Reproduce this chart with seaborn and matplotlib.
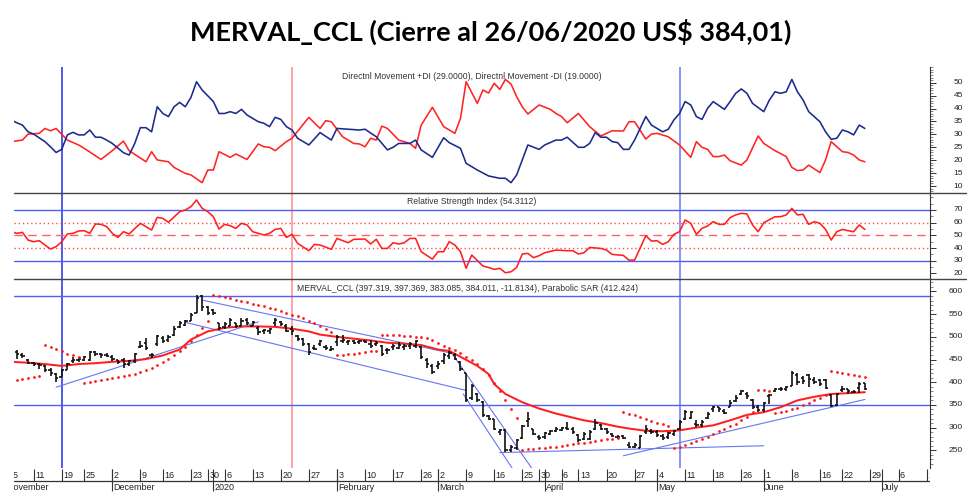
import matplotlib
matplotlib.use("Agg")
import matplotlib.pyplot as plt
from matplotlib.lines import Line2D
from matplotlib.ticker import MultipleLocator
import numpy as np
import pandas as pd
import seaborn as sns

# ---------------- data (trading-day index 0 = 5 Nov 2019 ... 152 = 26 Jun 2020) -------------
bar_open = [462,466,460,450,443,440,436,428,418,412,
            428,447,449,450,448,466,462,460,456,448,
            450,440,447,478,486,460,485,498,492,505,
            522,526,536,552,590,566,560,530,522,525,
            530,525,538,525,520,512,512,530,532,524,
            518,502,495,485,476,485,478,472,488,490,
            488,490,488,490,485,485,480,472,478,476,
            478,480,480,478,450,435,435,446,458,460,
            445,421,365,374,356,325,318,290,295,250,
            255,278,315,298,280,280,285,292,294,300,
            296,284,275,276,298,305,296,285,280,281,
            262,258,256,290,292,290,282,280,285,298,
            318,322,308,306,322,340,345,336,346,358,
            375,375,360,345,338,370,380,386,385,392,
            415,410,415,405,404,405,372,350,382,384,
            378,388,397.319]
bar_high = [472,472,465,452,445,443,438,432,421,429,
            443,456,456,458,469,469,465,465,460,450,
            454,450,465,491,498,465,505,501,505,523,
            534,538,552,592,592,567,562,531,532,541,
            531,541,541,534,523,518,520,541,536,528,
            523,505,498,487,483,494,483,480,505,505,
            494,494,494,494,494,490,483,476,484,488,
            485,488,494,480,454,440,447,465,469,465,
            447,421,396,376,358,327,320,298,298,262,
            276,305,334,298,283,290,294,302,302,313,
            302,287,290,294,318,308,300,288,283,283,
            269,266,283,305,296,294,287,290,294,316,
            339,336,316,316,334,347,345,341,360,371,
            383,378,363,349,356,374,387,390,392,425,
            420,414,418,411,408,407,374,376,392,385,
            383,400,397.369]
bar_low = [456,451,454,440,436,429,422,414,400,411,
           426,443,444,447,447,458,454,455,447,440,
           432,436,443,476,472,454,480,487,488,501,
           520,523,534,552,558,549,549,516,518,523,
           520,523,526,523,505,506,506,523,523,510,
           505,491,480,461,472,480,472,469,480,487,
           482,484,484,487,476,480,458,462,472,474,
           470,474,476,451,432,418,429,440,451,448,
           425,356,360,356,323,316,294,283,247,247,
           251,276,302,283,273,276,283,290,292,294,
           286,269,272,273,294,294,286,279,276,274,
           254,254,254,287,285,280,272,276,282,294,
           316,318,302,302,320,334,334,330,345,356,
           371,364,341,334,334,352,378,380,380,392,
           395,396,390,396,392,385,345,347,378,375,
           376,376,383.085]
bar_close = [466,462,458,443,440,438,428,420,410,426,
             440,450,451,455,466,463,460,458,451,444,
             440,447,462,480,476,461,502,490,500,518,
             530,535,548,585,565,552,552,520,528,538,
             524,536,530,532,510,515,518,538,528,514,
             512,495,485,466,474,490,476,474,500,492,
             490,487,490,489,480,486,462,470,480,482,
             480,485,490,455,440,422,440,460,465,452,
             430,360,392,360,328,320,298,295,250,258,
             272,303,320,286,278,288,292,298,300,298,
             290,272,286,290,310,298,290,282,280,278,
             258,262,282,298,290,284,278,288,292,312,
             335,334,306,312,330,345,340,332,355,366,
             380,370,345,338,354,372,384,384,390,420,
             400,402,408,400,396,388,348,374,384,380,
             379,397,384.011]
sar_value = [404,406,408,410,412,414,
             482,478,473,468,463,459,455,
             398,400,402,404,407,409,411,413,416,419,423,427,432,438,445,452,460,468,478,490,505,520,536,
             592,590,588,585,582,579,576,573,570,567,564,561,557,553,549,545,541,536,531,525,518,510,
             460,461,462,463,465,466,468,469,
             505,505,504,503,502,501,500,499,497,492,486,480,476,471,464,456,448,440,430,416,398,380,360,340,322,
             251,252,253,254,255,257,258,260,261,263,265,266,268,270,272,274,276,278,
             334,331,327,323,319,315,311,307,303,
             254,258,262,266,270,275,280,286,292,297,303,309,316,324,334,
             383,382,380,
             333,335,337,340,344,349,354,360,366,372,
             424,422,420,418,416,414,412.424]
ma_day = [0,3,6,9,12,15,18,21,24,27,30,32,35,38,41,44,47,50,53,55,58,61,64,67,70,73,76,78,80,83,
          85,86,88,91,94,97,100,102,105,108,110,113,116,119,122,125,128,131,134,137,140,143,146,149,152]
ma_value = [445,443,440,436,440,442,445,447,451,459,472,494,512,520,523,523,522,518,512,505,500,496,492,487,485,482,472,469,456,436,
            418,396,374,356,342,331,322,316,310,302,298,293,292,294,300,305,316,328,334,345,360,368,374,376,378]
dip_day = [0,1,2,3,4,6,7,8,9,10,11,12,13,14,15,16,17,18,20,21,22,23,24,25,26,27,28,29,30,31,
           32,33,34,36,37,38,39,40,41,42,44,45,46,47,48,49,50,51,53,55,57,58,60,62,63,65,67,68,69,71,
           72,73,75,77,78,80,81,83,85,87,88,89,90,92,94,95,97,98,99,101,102,103,104,105,106,107,108,109,110,111,
           113,114,115,116,117,118,119,120,121,122,123,124,125,127,128,129,130,131,132,134,
           135,136,137,138,139,140,141,142,144,145,146,147,148,149,150,151,152]
dip_value = [35.6,34.5,33.6,31.0,30.1,27.2,25.2,23.0,24.2,29.8,30.8,29.8,29.8,31.7,28.9,28.9,27.8,26.5,22.9,22.0,
             26.5,32.6,32.6,31.0,40.7,38.1,36.9,40.7,42.4,40.7,44.3,50.4,47.2,42.7,38.1,38.1,38.8,38.1,39.7,37.5,
             34.9,34.3,33.0,36.6,35.8,33.0,31.7,28.5,25.9,30.7,27.8,32.3,32.0,31.7,32.0,29.1,24.0,25.0,26.5,26.5,
             27.8,24.0,21.1,28.7,26.8,24.6,18.8,16.2,13.9,13.0,13.0,11.3,14.3,25.9,24.2,25.9,27.8,27.8,28.9,25.0,
             25.0,26.5,30.7,28.9,28.9,27.2,26.8,24.2,24.2,27.8,36.9,33.6,32.3,31.0,32.0,35.6,38.1,42.7,41.4,36.9,
             35.8,40.1,42.7,39.7,42.7,45.9,47.6,45.9,42.0,38.8,43.3,46.5,45.9,46.5,51.3,46.5,43.3,38.8,34.9,31.0,
             28.1,28.5,31.7,31.0,29.8,33.6,32.3]
dim_day = [0,2,3,5,6,7,8,10,12,13,16,18,20,21,24,25,26,28,29,31,32,34,35,36,37,39,40,42,44,45,
           46,47,49,50,53,55,56,57,59,61,62,63,64,65,66,67,69,71,72,73,75,77,79,80,81,83,84,85,86,87,
           88,89,90,91,92,94,96,97,98,99,101,103,105,107,109,110,111,113,114,115,117,119,121,122,123,124,125,126,127,128,
           130,131,133,134,136,138,139,140,141,142,144,145,146,148,149,150,151,152]
dim_value = [27.2,27.8,30.1,30.4,32.3,31.4,32.3,27.8,25.9,24.6,20.3,23.7,27.4,23.7,19.4,23.3,20.1,19.4,17.2,14.9,
             14.3,11.3,16.2,16.2,23.3,21.1,22.4,20.3,26.3,25.2,25.0,23.7,27.2,28.5,36.6,32.3,35.3,34.9,29.1,26.5,
             26.3,25.2,28.5,27.8,33.2,32.3,27.8,26.5,24.6,33.6,40.5,33.0,30.4,36.2,50.4,42.0,47.2,46.0,49.8,47.4,
             51.3,49.5,44.6,40.7,37.9,41.4,39.7,38.1,36.9,34.5,38.1,33.0,29.4,31.4,31.3,34.9,34.9,28.2,30.1,30.4,
             29.1,25.9,21.1,27.2,25.0,24.2,21.4,21.4,22.0,19.8,18.1,20.1,29.4,26.5,23.7,21.4,17.2,16.0,16.2,18.1,
             15.2,20.1,27.2,23.3,23.0,22.0,20.1,19.4]
rsi_day = [0,1,2,3,4,5,6,7,8,9,10,11,12,13,14,15,16,17,18,19,20,21,23,25,26,27,28,30,31,32,
           33,34,35,36,37,38,39,40,41,42,43,45,46,47,48,49,50,51,53,54,55,57,58,60,61,63,64,65,66,67,
           68,69,70,71,72,73,75,76,77,78,79,80,81,82,84,85,86,87,88,89,90,91,92,93,94,95,97,99,100,101,
           102,103,105,106,107,109,110,111,113,114,115,116,117,118,119,120,121,122,123,124,
           125,126,127,128,129,130,131,132,133,134,136,137,138,139,140,141,142,143,144,145,146,147,148,149,150,151,152]
rsi_value = [52.9,51.6,52.4,46.3,45.0,45.8,42.4,39.2,41.1,45.0,51.1,51.6,53.4,53.7,51.6,59.0,58.7,56.9,51.6,48.4,
             52.9,51.1,59.5,54.2,64.2,63.4,60.3,68.7,70.0,72.6,77.9,71.3,68.7,64.7,55.0,58.7,57.6,55.5,59.5,58.2,
             52.9,50.3,51.6,54.7,55.5,48.4,50.8,43.7,37.9,42.9,42.4,39.0,47.6,44.2,46.9,47.1,43.2,46.9,39.7,39.7,
             44.2,43.2,44.2,47.6,47.6,37.1,31.3,37.1,37.1,45.0,42.4,37.1,24.0,34.5,25.8,24.7,23.2,24.0,20.5,21.3,
             24.7,35.3,35.8,32.4,34.0,36.3,38.4,37.9,37.9,35.3,36.3,40.5,39.7,38.4,35.0,34.2,30.5,30.5,49.7,45.5,
             45.8,42.9,45.0,50.8,52.9,62.1,59.5,50.8,55.5,57.4,60.8,58.7,58.7,64.0,66.1,67.4,66.9,58.2,52.9,60.0,
             64.7,64.7,66.1,71.3,66.1,66.6,58.7,60.8,59.5,54.7,46.3,52.9,54.7,53.7,52.9,58.2,54.7]
trend_start_day = [8, 34, 31, 78, 80.5, 87, 109]
trend_start_val = [389, 581, 532, 472, 374, 245, 238]
trend_end_day = [44, 78, 81, 93, 89.5, 134, 152]
trend_end_val = [533, 465, 382, 205, 205, 260, 362]
price_levels = [590, 350]
marker_days = [9, 50, 119]
marker_colors = ["#1f2fe6", "#ff8c8c", "#6a74f2"]
week_days = [0,4,9,13,18,23,27,32,35,38,43,48,53,58,63,68,73,76,81,86,91,94,98,101,106,111,115,120,125,130,134,139,144,148,153,158,163]
week_labels = ['5','11','19','25','2','9','16','23','30','6','13','20','27','3','10','17','26','2','9','16','25','30',
               '6','13','20','27','4','11','18','26','1','8','16','22','29','6','13']
month_days = [-1.0, 18, 36, 58, 76, 95, 115, 134, 155]
month_labels = ['November', 'December', '2020', 'February', 'March', 'April', 'May', 'June', 'July']

title = "MERVAL_CCL (Cierre al 26/06/2020 US$ 384,01)"
di_note = "Directnl Movement +DI (29.0000), Directnl Movement -DI (19.0000)"
rsi_note = "Relative Strength Index (54.3112)"
px_note = "MERVAL_CCL (397.319, 397.369, 383.085, 384.011, -11.8134), Parabolic SAR (412.424)"

# ---------------- figure ----------------
sns.set_theme(style="white")
plt.rcParams["font.family"] = ["Liberation Sans", "DejaVu Sans"]

W, H = 980, 503
fig = plt.figure(figsize=(W / 100, H / 100), dpi=100)
fig.patch.set_facecolor("white")
X0, X1 = 14, 930
XL = (0.5, 163.6)
LBL_X = 1 + 33 / (X1 - X0)


def add_panel(top, bottom, ylim, minor, labels):
    ax = fig.add_axes([X0 / W, 1 - bottom / H, (X1 - X0) / W, (bottom - top) / H])
    ax.set_xlim(*XL)
    ax.set_ylim(*ylim)
    ax.set_facecolor("none")
    for s in ["top", "left", "bottom"]:
        ax.spines[s].set_visible(False)
    ax.spines["right"].set_color("#333333")
    ax.spines["right"].set_linewidth(0.8)
    ax.set_xticks([])
    ax.yaxis.tick_right()
    ax.set_yticks(labels)
    ax.yaxis.set_minor_locator(MultipleLocator(minor))
    ax.tick_params(axis="y", which="major", direction="out", length=4, width=0.7,
                   colors="#333333", labelright=False, right=True)
    ax.tick_params(axis="y", which="minor", direction="out", length=2, width=0.5,
                   colors="#555555", right=True)
    ax.grid(False)
    for v in labels:
        ax.text(LBL_X, v, str(v), transform=ax.get_yaxis_transform(), ha="right",
                va="center", fontsize=6, color="#222222")
    return ax


ax_di = add_panel(67, 193, (7.3, 56.1), 1, list(range(10, 55, 5)))
ax_rsi = add_panel(193, 279, (15.6, 83.4), 5, list(range(20, 80, 10)))
ax_px = add_panel(279, 468, (211, 627.5), 10, list(range(250, 650, 50)))

# marker vertical lines
for ax in (ax_di, ax_rsi, ax_px):
    for d, c in zip(marker_days, marker_colors):
        ax.axvline(d, color=c, lw=1.1, zorder=1)

# --- DI panel
sns.lineplot(x=dim_day, y=dim_value, ax=ax_di, color="#ff2424", lw=1.15, estimator=None, sort=False, zorder=3)
sns.lineplot(x=dip_day, y=dip_value, ax=ax_di, color="#1c2a8c", lw=1.15, estimator=None, sort=False, zorder=3)
ax_di.set_xlim(*XL); ax_di.set_ylim(7.3, 56.1)
ax_di.set_xlabel(""); ax_di.set_ylabel("")

# --- RSI panel
for lvl, col, ls in [(70, "#5060f0", "-"), (30, "#5060f0", "-"), (60, "#ff5050", (0, (1, 2))),
                     (40, "#ff5050", (0, (1, 2))), (50, "#ff6060", (0, (6, 4)))]:
    ax_rsi.axhline(lvl, color=col, lw=1.0, ls=ls, zorder=1)
sns.lineplot(x=rsi_day, y=rsi_value, ax=ax_rsi, color="#ff1f1f", lw=1.15, estimator=None, sort=False, zorder=3)
ax_rsi.set_xlim(*XL); ax_rsi.set_ylim(15.6, 83.4)
ax_rsi.set_xlabel(""); ax_rsi.set_ylabel("")

# --- price panel
days = np.arange(len(bar_close))
for lvl in price_levels:
    ax_px.axhline(lvl, color="#5060f0", lw=1.0, zorder=1)
for d0, v0, d1, v1 in zip(trend_start_day, trend_start_val, trend_end_day, trend_end_val):
    ax_px.plot([d0, d1], [v0, v1], color="#6676f2", lw=0.8, zorder=2)
sns.lineplot(x=ma_day, y=ma_value, ax=ax_px, color="#ff1f1f", lw=1.45, estimator=None, sort=False, zorder=3)
ax_px.vlines(days, bar_low, bar_high, color="#111111", lw=1.2, zorder=4)
ax_px.hlines(bar_open, days - 0.4, days, color="#111111", lw=1.2, zorder=4)
ax_px.hlines(bar_close, days, days + 0.4, color="#111111", lw=1.2, zorder=4)
sns.scatterplot(x=days, y=sar_value, ax=ax_px, color="#ff1a1a", s=4, marker="o", linewidth=0,
                legend=False, zorder=5)
ax_px.set_xlim(*XL); ax_px.set_ylim(211, 627.5)
ax_px.set_xlabel(""); ax_px.set_ylabel("")

# --- date strip
ax_dt = fig.add_axes([X0 / W, 1 - 495 / H, (X1 - X0) / W, 27 / H])
ax_dt.set_xlim(*XL)
ax_dt.set_ylim(495, 468)
ax_dt.axis("off")
ax_dt.vlines(week_days, 469, 480.7, color="#333333", lw=0.8)
ax_dt.vlines(month_days, 469, 491, color="#333333", lw=0.8)
ax_dt.axhline(480.7, color="#333333", lw=0.9)
for d, t in zip(week_days, week_labels):
    ax_dt.text(d + 0.25, 475.2, t, fontsize=6.5, color="#222222", ha="left", va="center", clip_on=True)
for d, t in zip(month_days, month_labels):
    ax_dt.text(d + 0.25, 487.3, t, fontsize=6.5, color="#222222", ha="left", va="center", clip_on=True)

# separators between panels
for yy in (193, 279):
    fig.add_artist(Line2D([X0 / W, 966 / W], [1 - yy / H, 1 - yy / H], color="#444444", lw=1.0))

# notes and title
fig.text(341.7 / W, 1 - 76.7 / H, di_note, fontsize=6.2, color="#333333", ha="left", va="center")
fig.text(406.7 / W, 1 - 201 / H, rsi_note, fontsize=6.2, color="#333333", ha="left", va="center")
fig.text(296.7 / W, 1 - 288.5 / H, px_note, fontsize=6.2, color="#333333", ha="left", va="center")
fig.text(491 / W, 1 - 32 / H, title, fontsize=19.5, fontweight="bold", color="black", ha="center",
         va="center", family=["Lato", "DejaVu Sans"])

fig.savefig("out.png", dpi=100)
